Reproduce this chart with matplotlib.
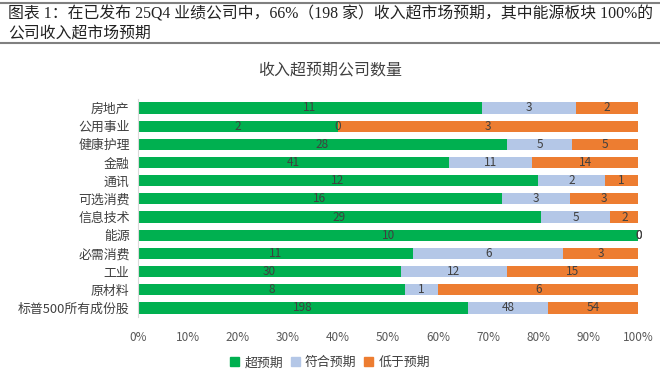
import numpy as np
import matplotlib.pyplot as plt
from matplotlib.patches import Patch
from matplotlib.lines import Line2D

plt.rcParams['font.family'] = ['Noto Sans CJK SC', 'DejaVu Sans']

# data (top to bottom)
categories = ['房地产', '公用事业', '健康护理', '金融', '通讯', '可选消费', '信息技术',
              '能源', '必需消费', '工业', '原材料', '标普500所有成份股']
beat = [11, 2, 28, 41, 12, 16, 29, 10, 11, 30, 8, 198]
inline = [3, 0, 5, 11, 2, 3, 5, 0, 6, 12, 1, 48]
miss = [2, 3, 5, 14, 1, 3, 2, 0, 3, 15, 6, 54]
series_names = ['超预期', '符合预期', '低于预期']
colors = ['#00B050', '#B4C7E7', '#ED7D31']

vals = np.array([beat, inline, miss], dtype=float)
tot = vals.sum(axis=0)
share = vals / tot

fig = plt.figure(figsize=(6.6, 3.76), dpi=100)
ax = fig.add_axes([0.209, 0.157, 0.758, 0.58])

y = np.arange(len(categories))
left = np.zeros(len(categories))
for k in range(3):
    ax.barh(y, share[k], left=left, height=0.62, color=colors[k], edgecolor='none')
    for i in range(len(categories)):
        ax.text(left[i] + share[k][i] / 2, y[i], str(int(vals[k][i])),
                ha='center', va='center', fontsize=8.5, color='#404040')
    left = left + share[k]

ax.set_ylim(len(categories) - 0.5, -0.5)
ax.set_xlim(0, 1)
ax.set_yticks(y)
ax.set_yticklabels(categories, fontsize=9.3, color='#404040')
ax.set_xticks(np.linspace(0, 1, 11))
ax.set_xticklabels(['%d%%' % v for v in range(0, 101, 10)], fontsize=8.5, color='#595959')
ax.tick_params(length=0, pad=6)
ax.tick_params(axis='x', pad=10)
for s in ['top', 'right', 'bottom']:
    ax.spines[s].set_visible(False)
ax.spines['left'].set_color('#D9D9D9')

fig.text(0.5, 0.815, '收入超预期公司数量', ha='center', va='center', fontsize=11.5, color='#404040')

handles = [Patch(color=c) for c in colors]
fig.legend(handles, series_names, loc='center', bbox_to_anchor=(0.5, 0.035), ncol=3,
           frameon=False, fontsize=9.3, handlelength=0.7, handleheight=0.7,
           handletextpad=0.4, columnspacing=0.6, labelcolor='#404040')

# header
fig.add_artist(Line2D([0, 1], [0.992, 0.992], color='#808080', lw=1.5))
fig.add_artist(Line2D([0, 1], [0.886, 0.886], color='#808080', lw=1.5))
hdr_font = ['Liberation Serif', 'Noto Sans CJK SC']
fig.text(0.012, 0.961, '图表 1：在已发布 25Q4 业绩公司中，66%（198 家）收入超市场预期，其中能源板块 100%的',
         ha='left', va='center', fontsize=11.4, family=hdr_font, color='#222222')
fig.text(0.012, 0.912, '公司收入超市场预期', ha='left', va='center', fontsize=11.4,
         family=hdr_font, color='#222222')

fig.savefig('out.png', dpi=100)
